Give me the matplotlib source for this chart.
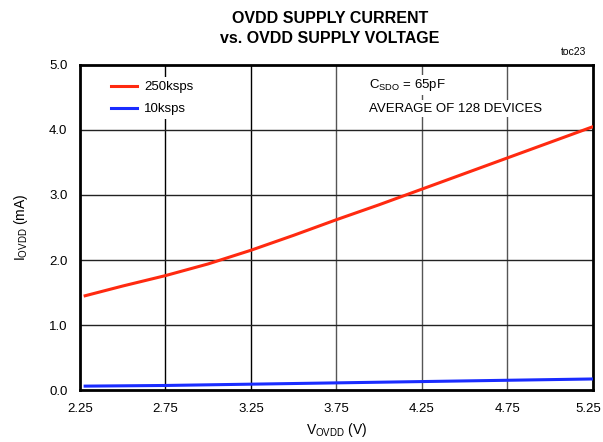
import matplotlib

matplotlib.use("Agg")
import matplotlib.pyplot as plt
import matplotlib.transforms as mtransforms

# data
v_250k = [2.28, 2.50, 2.75, 3.00, 3.25, 3.50, 3.75, 4.00, 4.25, 4.50, 4.75, 5.00, 5.25]
i_250k = [1.45, 1.60, 1.76, 1.94, 2.15, 2.38, 2.62, 2.85, 3.09, 3.33, 3.57, 3.81, 4.05]
v_10k = [2.28, 2.75, 3.25, 3.75, 4.25, 4.75, 5.25]
i_10k = [0.06, 0.07, 0.09, 0.11, 0.13, 0.15, 0.17]

x_ticks = [2.25, 2.75, 3.25, 3.75, 4.25, 4.75, 5.25]
y_ticks = [0.0, 1.0, 2.0, 3.0, 4.0, 5.0]

plt.rcParams["font.family"] = ["Liberation Sans", "DejaVu Sans"]

fig = plt.figure(figsize=(6.03, 4.42), dpi=100)
ax = fig.add_axes([0.1327, 0.1176, 0.8504, 0.7354])

ax.plot(v_250k, i_250k, color="#ff2a10", linewidth=2.2, label="250ksps", zorder=3)
ax.plot(v_10k, i_10k, color="#1a2cff", linewidth=2.2, label="10ksps", zorder=3)

ax.set_xlim(2.25, 5.25)
ax.set_ylim(0.0, 5.0)
ax.set_xticks(x_ticks)
ax.set_yticks(y_ticks)
ax.set_xticklabels([f"{t:.2f}" for t in x_ticks], fontsize=9.5)
ax.set_yticklabels([f"{t:.1f}" for t in y_ticks], fontsize=9.5)
ax.tick_params(length=0, pad=9)

# keep the last x label inside the canvas
last = ax.get_xticklabels()[-1]
last.set_transform(last.get_transform()
                   + mtransforms.ScaledTranslation(-5 / 100, 0, fig.dpi_scale_trans))

for i, t in enumerate(x_ticks[1:-1]):
    ax.axvline(t, color="black" if i < 2 else "#555555", linewidth=1.0, zorder=1)
for t in y_ticks[1:-1]:
    ax.axhline(t, color="#222222", linewidth=1.0, zorder=1)

for spine in ax.spines.values():
    spine.set_linewidth(2.0)

ax.legend(loc="upper left", frameon=True, facecolor="white", edgecolor="none",
          framealpha=1.0, fontsize=9.5, handlelength=2.0, handletextpad=0.5,
          labelspacing=0.75, borderaxespad=0.3, bbox_to_anchor=(0.045, 0.975),
          borderpad=0.3, fancybox=False)

box = dict(facecolor="white", edgecolor="none", pad=1.5)
ax.text(3.94, 4.69, "C$_{\\mathregular{SDO}}$ = 65pF", fontsize=9.5, va="center", bbox=box)
ax.text(3.94, 4.33, "AVERAGE OF 128 DEVICES", fontsize=9.5, va="center", bbox=box)

ax.set_xlabel("V$_{\\mathregular{OVDD}}$ (V)", fontsize=10, labelpad=5)
ax.set_ylabel("I$_{\\mathregular{OVDD}}$ (mA)", fontsize=10, labelpad=14)

fig.text(0.547, 0.958, "OVDD SUPPLY CURRENT", ha="center", va="center",
         fontsize=11.5, fontweight="bold")
fig.text(0.547, 0.912, "vs. OVDD SUPPLY VOLTAGE", ha="center", va="center",
         fontsize=11.5, fontweight="bold")
fig.text(0.972, 0.882, "toc23", ha="right", va="center", fontsize=7.5)

fig.savefig("out.png", dpi=100)
